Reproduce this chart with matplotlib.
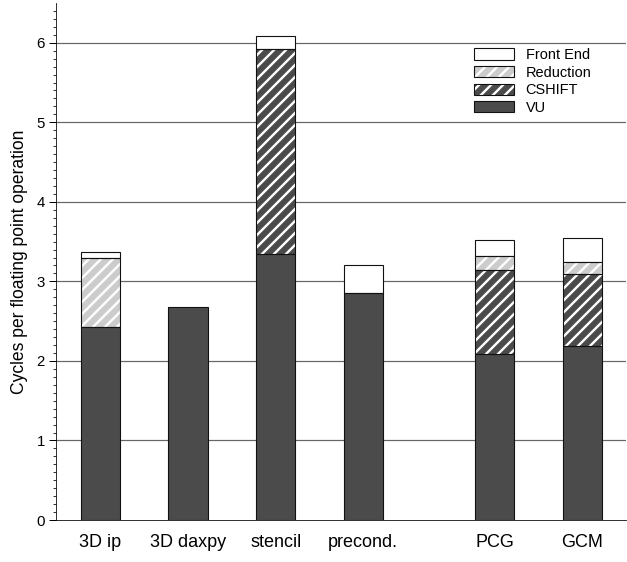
import numpy as np;
import matplotlib
matplotlib.use('Agg');
import matplotlib.pyplot as plt;
from matplotlib.legend_handler import HandlerTuple;

labels  = ['3D ip', '3D daxpy', 'stencil', 'precond.', 'PCG', 'GCM'];
xpos    = [0, 1, 2, 3, 4.5, 5.5];
vu      = [2.43, 2.675, 3.34, 2.86, 2.085, 2.19];
cshift  = [0.0,  0.0,   2.58, 0.0,  1.06,  0.90];
reduct  = [0.86, 0.0,   0.0,  0.0,  0.175, 0.15];
fronte  = [0.085, 0.0,  0.16, 0.34, 0.195, 0.30];

plt.rcParams['font.family'] = ['Liberation Sans', 'DejaVu Sans'];
plt.rcParams['hatch.linewidth'] = 2.4;

fig = plt.figure(figsize=(627/72., 562/72.), dpi=72);
ax = fig.add_axes([56/627., 42/562., 570/627., 517/562.]);

dark  = '#4b4b4b';
light = '#cccccc';
edge  = '#111111';
w = 0.45;

series = [('VU', vu, dark, None),
          ('CSHIFT', cshift, dark, '//'),
          ('Reduction', reduct, light, '//'),
          ('Front End', fronte, 'white', None)];

x = np.array(xpos);
bottom = np.zeros(len(x));
handles = [];
for name, vals, col, hatch in series:
    v = np.array(vals);
    m = v > 0;
    fill = ax.bar(x[m], v[m], w, bottom=bottom[m], color=col, hatch=hatch,
                  edgecolor='white' if hatch else col, linewidth=0, zorder=3);
    line = ax.bar(x[m], v[m], w, bottom=bottom[m], fill=False,
                  edgecolor=edge, linewidth=1.1, zorder=4);
    handles.append((fill, line));
    bottom = bottom + v;

for y in range(1, 7):
    ax.axhline(y, color='0.4', lw=1.2, zorder=1);

ax.set_xlim(-0.508, 6.0);
ax.set_ylim(0, 6.5);
ax.set_xticks(xpos);
ax.set_xticklabels(labels, fontsize=18);
ax.tick_params(axis='x', length=0, pad=14);
ax.set_yticks(range(0, 7));
ax.set_yticks(np.arange(0, 6.5, 0.1), minor=True);
ax.tick_params(axis='y', which='major', length=7, width=1, labelsize=15, pad=4);
ax.tick_params(axis='y', which='minor', length=3, width=0.8);
ax.spines['top'].set_visible(False);
ax.spines['right'].set_visible(False);
ax.set_ylabel('Cycles per floating point operation', fontsize=17.5, labelpad=8);

names = [s[0] for s in series];
leg = ax.legend(handles[::-1], names[::-1], handler_map={tuple: HandlerTuple(ndivide=1, pad=0)},
                loc='upper left', bbox_to_anchor=(474/627., 1-48/562.), bbox_transform=fig.transFigure,
                frameon=False, fontsize=14.5, handlelength=40/14.5, handleheight=11.6/14.5,
                handletextpad=0.8, labelspacing=0.25, borderpad=0, borderaxespad=0);

fig.savefig('out.png', dpi=72);
